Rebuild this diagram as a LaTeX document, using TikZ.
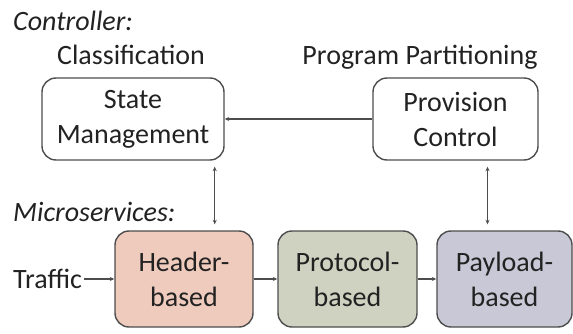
\documentclass[tikz,border=0pt]{standalone}
\usepackage{fontspec}
\setmainfont{Carlito}
\usetikzlibrary{arrows.meta}
\definecolor{txt}{HTML}{222222}
\definecolor{edge}{HTML}{4D4D4D}
\definecolor{hdr}{HTML}{EECBBC}
\definecolor{prt}{HTML}{CFD2C1}
\definecolor{pld}{HTML}{C8C8D6}
\tikzset{
  box/.style={draw=edge, line width=1.4pt, rounded corners=14pt, align=center,
    inner sep=0pt, text=txt, font=\fontsize{28}{35}\selectfont},
  lbl/.style={text=txt, inner sep=2pt, font=\fontsize{28}{33}\selectfont},
  conn/.style={draw=edge, line width=1.1pt, -{Stealth[length=4.5pt,width=4pt]}},
  conn2/.style={draw=edge, line width=1.1pt, {Stealth[length=4.5pt,width=4pt]}-{Stealth[length=4.5pt,width=4pt]}, shorten <=6pt, shorten >=6pt}
}
\begin{document}
\begin{tikzpicture}[x=1pt,y=-1pt]
\useasboundingbox (0,0) rectangle (573,334);
\node[lbl, anchor=base west, font=\fontsize{28}{33}\selectfont\itshape] (ctl) at (11,31) {Controller:};
\node[lbl, anchor=base] (cls) at (131,65) {Classification};
\node[lbl, anchor=base] (pp) at (420,65) {Program Partitioning};
\node[box, minimum width=182pt, minimum height=82pt] (sm) at (133,119) {State\\Management};
\node[box, minimum width=165pt, minimum height=82pt] (pc) at (455.5,119) {Provision\\Control};
\node[lbl, anchor=base west, font=\fontsize{28}{33}\selectfont\itshape] (ms) at (11,221) {Microservices:};
\node[box, fill=hdr, minimum width=138pt, minimum height=96pt] (hb) at (184,279) {Header-\\based};
\node[box, fill=prt, minimum width=139pt, minimum height=96pt] (pr) at (347.5,279) {Protocol-\\based};
\node[box, fill=pld, minimum width=135pt, minimum height=96pt] (pl) at (504.5,279) {Payload-\\based};
\node[lbl, anchor=base west] (tr) at (11,288) {Traffic};
\draw[conn] (pc.west) -- (sm.east);
\draw[conn2] ([xshift=-10pt]sm.south east) -- ([xshift=-10pt]sm.south east |- hb.north);
\draw[conn2] ([xshift=32pt]pc.south) -- ([xshift=32pt]pc.south |- pl.north);
\draw[conn] (hb.west -| tr.east) -- (hb.west);
\draw[conn] (hb.east) -- (pr.west);
\draw[conn] (pr.east) -- (pl.west);
\end{tikzpicture}
\end{document}
